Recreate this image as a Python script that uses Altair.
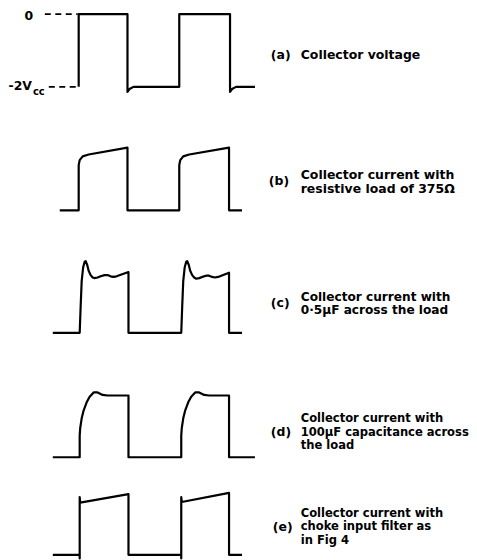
import altair as alt
import pandas as pd

# ---- waveform data (time in arbitrary units, rising edge at t≈0, period ≈ 101) ----
# (a) collector voltage: level 0 = -2Vcc, level 1 = 0 V
a_t = [0, 0, 49, 49, 51, 55, 101, 101, 152, 152, 154, 158, 177]
a_v = [0, 1, 1, -0.07, -0.03, 0, 0, 1, 1, -0.07, -0.03, 0, 0]

# (b) collector current, resistive load 375 ohm
b_t = [-19, 0, 0, 1, 4, 10, 49, 49, 101, 101, 102, 105, 111, 151, 151, 164]
b_v = [0, 0, 0.72, 0.80, 0.86, 0.89, 1.0, 0, 0, 0.72, 0.80, 0.86, 0.89, 1.0, 0, 0]

# (c) collector current, 0.5 uF across the load
c_t = [-26, 1, 2, 3, 4.5, 6, 7, 8.5, 10, 12, 14, 16, 19, 22, 26, 29, 32, 35, 38, 50, 50,
       103, 104, 105, 106.5, 108, 109, 110.5, 112, 114, 116, 118, 121, 124, 128, 131, 134, 137, 140, 151, 151, 164]
c_v = [0, 0, 0.45, 0.85, 1.08, 1.17, 1.18, 1.12, 1.02, 0.95, 0.91, 0.90, 0.91, 0.93, 0.95, 0.95, 0.93, 0.92, 0.93, 1.0, 0,
       0, 0.45, 0.85, 1.08, 1.17, 1.18, 1.12, 1.02, 0.95, 0.91, 0.89, 0.90, 0.92, 0.94, 0.94, 0.92, 0.91, 0.92, 0.99, 0, 0]

# (d) collector current, 100 uF across the load
d_t = [-26, 1, 1, 1.5, 3, 5, 8, 11, 15, 19, 24, 29, 50, 50,
       103, 103, 103.5, 105, 107, 110, 113, 117, 121, 126, 131, 151, 151, 177]
d_v = [0, 0, 0.35, 0.47, 0.63, 0.76, 0.89, 0.98, 1.05, 1.05, 1.01, 1.0, 1.0, 0,
       0, 0.35, 0.47, 0.63, 0.76, 0.89, 0.98, 1.05, 1.05, 1.01, 1.0, 1.0, 0, 0]

# (e) collector current, choke input filter
e_t = [-26, 1, 1, 1, 1.5, 50, 50, 103, 103, 103, 103.5, 151, 151, 164]
e_v = [0, 0, -0.06, 0.95, 0.86, 1.0, 0, 0, -0.06, 0.95, 0.87, 1.02, 0, 0]

# reference dashes for panel (a)
dash_top_t = [-34, -1]
dash_bot_t = [-30, -1]

tags = ["(a)", "(b)", "(c)", "(d)", "(e)"]
captions = [
    "Collector voltage",
    "Collector current with\nresistive  load  of  375Ω",
    "Collector current with\n0·5μF across the load",
    "Collector current with\n100μF capacitance across\nthe load",
    "Collector current with\nchoke input filter as\nin  Fig 4",
]

# ---- layout (page pixels) ----
W = 461
X_DOMAIN = [-71, 390]     # t -> page x = t + 79
FONT = "DejaVu Sans"

def tx(px):
    return px - 79

# cap_pos y = first caption line
panels = [
    dict(t=a_t, v=a_v, top=8, h=122, base=85, amp=73,
         tag_pos=(272, 53), cap_pos=(302, 53), lh=13, size=12.5),
    dict(t=b_t, v=b_v, top=130, h=110, base=209, amp=63,
         tag_pos=(270, 180), cap_pos=(302, 174), lh=14, size=12.5),
    dict(t=c_t, v=c_v, top=240, h=125, base=332, amp=61,
         tag_pos=(272, 302), cap_pos=(302, 296), lh=13.5, size=12.2),
    dict(t=d_t, v=d_v, top=365, h=110, base=457, amp=62,
         tag_pos=(272, 432), cap_pos=(302, 419), lh=13.5, size=11.6),
    dict(t=e_t, v=e_v, top=475, h=85, base=555, amp=61,
         tag_pos=(274, 527), cap_pos=(302, 514), lh=13.5, size=11.6),
]

charts = []
for k, p in enumerate(panels):
    lo = -(p["top"] + p["h"] - p["base"]) / p["amp"]
    hi = (p["base"] - p["top"]) / p["amp"]
    xs = alt.Scale(domain=X_DOMAIN, nice=False, zero=False)
    ys = alt.Scale(domain=[lo, hi], nice=False, zero=False)

    def vy(py, p=p):
        return (p["base"] - py) / p["amp"]

    X = alt.X("t:Q", scale=xs, axis=None)
    Y = alt.Y("v:Q", scale=ys, axis=None)

    df = pd.DataFrame({"t": p["t"], "v": p["v"], "i": list(range(len(p["t"])))})
    layers = [
        alt.Chart(df).mark_line(color="black", strokeWidth=2.2, strokeJoin="round",
                                strokeCap="butt").encode(x=X, y=Y, order="i:Q")
    ]
    tdf = pd.DataFrame({"t": [tx(p["tag_pos"][0])], "v": [vy(p["tag_pos"][1])], "txt": [tags[k]]})
    layers.append(
        alt.Chart(tdf).mark_text(align="left", baseline="middle", font=FONT, fontSize=12.5,
                                 fontWeight="bold", color="black").encode(x=X, y=Y, text="txt:N")
    )
    cdf = pd.DataFrame({"t": [tx(p["cap_pos"][0])], "v": [vy(p["cap_pos"][1])], "txt": [captions[k]]})
    layers.append(
        alt.Chart(cdf).mark_text(align="left", baseline="middle", font=FONT, fontSize=p["size"],
                                 fontWeight="bold", color="black", lineBreak="\n",
                                 lineHeight=p["lh"]).encode(x=X, y=Y, text="txt:N")
    )
    if k == 0:
        ddf = pd.DataFrame({
            "t": dash_top_t + dash_bot_t,
            "v": [1, 1, 0, 0],
            "g": ["top", "top", "bot", "bot"],
        })
        layers.append(
            alt.Chart(ddf).mark_line(color="black", strokeWidth=1.8, strokeDash=[6, 4.5],
                                     strokeJoin="round").encode(x=X, y=Y, detail="g:N")
        )
        side = [
            ("0", tx(29), vy(13.5), 12.5, "center"),
            ("-2V", tx(8.5), vy(84), 12.5, "left"),
            ("cc", tx(33), vy(90), 10, "left"),
        ]
        for txt, t, v, sz, al in side:
            one = pd.DataFrame({"t": [t], "v": [v], "txt": [txt]})
            layers.append(
                alt.Chart(one).mark_text(align=al, baseline="middle", font=FONT, fontSize=sz,
                                         fontWeight="bold", color="black").encode(
                    x=X, y=Y, text="txt:N")
            )
    charts.append(alt.layer(*layers).properties(width=W, height=p["h"]))

chart = alt.vconcat(
    *charts, spacing=0, padding=0, bounds="flush"
).resolve_scale(
    x="independent", y="independent"
).configure(
    background="white", view=alt.ViewConfig(stroke=None)
)

chart.save("out.html", embed_options={"renderer": "svg", "actions": False})
